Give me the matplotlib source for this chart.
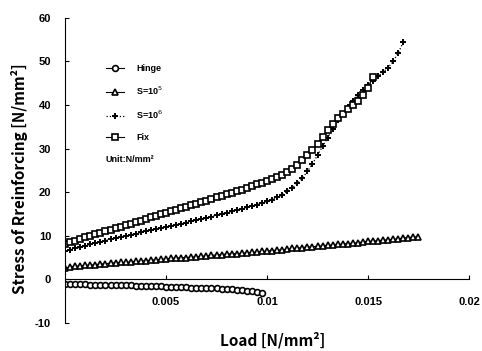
import matplotlib.pyplot as plt

# load steps [N/mm2]
load = [0.0, 0.00025, 0.0005, 0.00075, 0.001, 0.00125, 0.0015, 0.00175,
        0.002, 0.00225, 0.0025, 0.00275, 0.003, 0.00325, 0.0035, 0.00375,
        0.004, 0.00425, 0.0045, 0.00475, 0.005, 0.00525, 0.0055, 0.00575,
        0.006, 0.00625, 0.0065, 0.00675, 0.007, 0.00725, 0.0075, 0.00775,
        0.008, 0.00825, 0.0085, 0.00875, 0.009, 0.00925, 0.0095, 0.00975,
        0.01, 0.01025, 0.0105, 0.01075, 0.011, 0.01125, 0.0115, 0.01175,
        0.012, 0.01225, 0.0125, 0.01275, 0.013, 0.01325, 0.0135, 0.01375,
        0.014, 0.01425, 0.0145, 0.01475, 0.015, 0.01525, 0.0155, 0.01575,
        0.016, 0.01625, 0.0165, 0.01675, 0.017, 0.01725, 0.0175]

hinge = [-1.0, -1.0, -1.1, -1.1, -1.1, -1.2, -1.2, -1.2, -1.3, -1.3,
         -1.3, -1.4, -1.4, -1.4, -1.5, -1.5, -1.5, -1.6, -1.6, -1.6,
         -1.7, -1.7, -1.8, -1.8, -1.8, -1.9, -1.9, -2.0, -2.0, -2.1,
         -2.1, -2.2, -2.2, -2.3, -2.4, -2.5, -2.6, -2.7, -2.9, -3.2]

s1e5 = [2.5, 2.9, 3.0, 3.1, 3.2, 3.3, 3.4, 3.5, 3.6, 3.7,
        3.8, 3.9, 3.9, 4.0, 4.1, 4.2, 4.3, 4.4, 4.5, 4.6,
        4.7, 4.8, 4.9, 5.0, 5.0, 5.1, 5.2, 5.3, 5.4, 5.5,
        5.6, 5.7, 5.8, 5.9, 5.9, 6.0, 6.1, 6.2, 6.3, 6.4,
        6.5, 6.6, 6.7, 6.8, 6.9, 7.1, 7.2, 7.3, 7.4, 7.5,
        7.6, 7.7, 7.8, 7.9, 8.0, 8.1, 8.2, 8.3, 8.4, 8.6,
        8.7, 8.8, 8.9, 9.0, 9.1, 9.2, 9.3, 9.5, 9.6, 9.7, 9.8]

s1e6 = [6.4, 6.8, 7.1, 7.4, 7.7, 8.0, 8.3, 8.6, 8.9, 9.2,
        9.4, 9.7, 10.0, 10.2, 10.5, 10.8, 11.0, 11.3, 11.5, 11.8,
        12.0, 12.3, 12.5, 12.8, 13.0, 13.3, 13.6, 13.8, 14.1, 14.4,
        14.7, 15.0, 15.3, 15.6, 15.9, 16.2, 16.5, 16.8, 17.1, 17.5,
        17.9, 18.3, 18.8, 19.4, 20.2, 21.0, 22.0, 23.2, 24.8, 26.5,
        28.5, 30.5, 32.5, 34.5, 36.5, 38.0, 39.5, 41.0, 42.3, 43.5,
        44.6, 45.6, 46.6, 47.6, 48.6, 50.0, 52.0, 54.5]

fix = [8.0, 8.5, 8.9, 9.3, 9.7, 10.0, 10.4, 10.7, 11.1, 11.4,
       11.8, 12.1, 12.5, 12.8, 13.2, 13.5, 13.8, 14.2, 14.5, 14.9,
       15.2, 15.6, 15.9, 16.3, 16.6, 17.0, 17.3, 17.7, 18.0, 18.4,
       18.8, 19.1, 19.5, 19.9, 20.2, 20.6, 21.0, 21.4, 21.8, 22.1,
       22.5, 23.0, 23.5, 24.0, 24.6, 25.4, 26.3, 27.3, 28.5, 29.7,
       31.0, 32.7, 34.3, 35.7, 37.0, 38.0, 39.0, 40.0, 41.0, 42.4,
       44.0, 46.5]

xticks = [0.005, 0.01, 0.015, 0.02]
xlabels = ['0.005', '0.01', '0.015', '0.02']
yticks = [-10, 0, 10, 20, 30, 40, 50, 60]

plt.rcParams['font.family'] = ['Liberation Sans', 'DejaVu Sans']
jp = ['Noto Sans CJK JP', 'DejaVu Sans']

fig = plt.figure(figsize=(4.82, 3.51), dpi=100)
ax = fig.add_axes([0.135, 0.080, 0.838, 0.869])

ax.plot(load[:len(hinge)], hinge, '-o', color='black', lw=0.8, ms=4.2,
        mfc='white', mew=1.2, label='Hinge')
ax.plot(load[:len(s1e5)], s1e5, '-^', color='black', lw=0.8, ms=4.4,
        mfc='white', mew=1.2, label='S=10$^5$')
ax.plot(load[:len(s1e6)], s1e6, ':+', color='black', lw=0.9, ms=4.8,
        mew=1.4, label='S=10$^6$')
ax.plot(load[:len(fix)], fix, '-s', color='black', lw=0.8, ms=4.4,
        mfc='white', mew=1.2, label='Fix')

ax.set_xlim(0, 0.02)
ax.set_ylim(-10, 60)
ax.spines['top'].set_visible(False)
ax.spines['right'].set_visible(False)
ax.spines['bottom'].set_position(('data', 0))
ax.set_xticks(xticks)
ax.set_xticklabels(xlabels, fontsize=8, fontweight='bold')
ax.set_yticks(yticks)
ax.set_yticklabels([str(v) for v in yticks], fontsize=8, fontweight='bold')
ax.tick_params(axis='x', direction='in', length=3, pad=13)
ax.tick_params(axis='y', direction='in', length=3, pad=10)

leg = ax.legend(loc='upper left', bbox_to_anchor=(0.08, 0.875), frameon=False,
                fontsize=6.5, handlelength=2.0, labelspacing=1.3,
                handletextpad=1.4)
for t in leg.get_texts():
    t.set_fontweight('bold')

ax.text(0.0020, 27.0, 'Unit:N/mm²', fontsize=6.5, fontweight='bold')

fig.text(0.565, 0.03, 'Load [N/mm²]', ha='center', va='center',
         fontsize=11, fontweight='bold', family=jp)
fig.text(0.04, 0.49, 'Stress of Rreinforcing [N/mm²]', ha='center',
         va='center', rotation=90, fontsize=11, fontweight='bold', family=jp)

fig.savefig('out.png', dpi=100)
